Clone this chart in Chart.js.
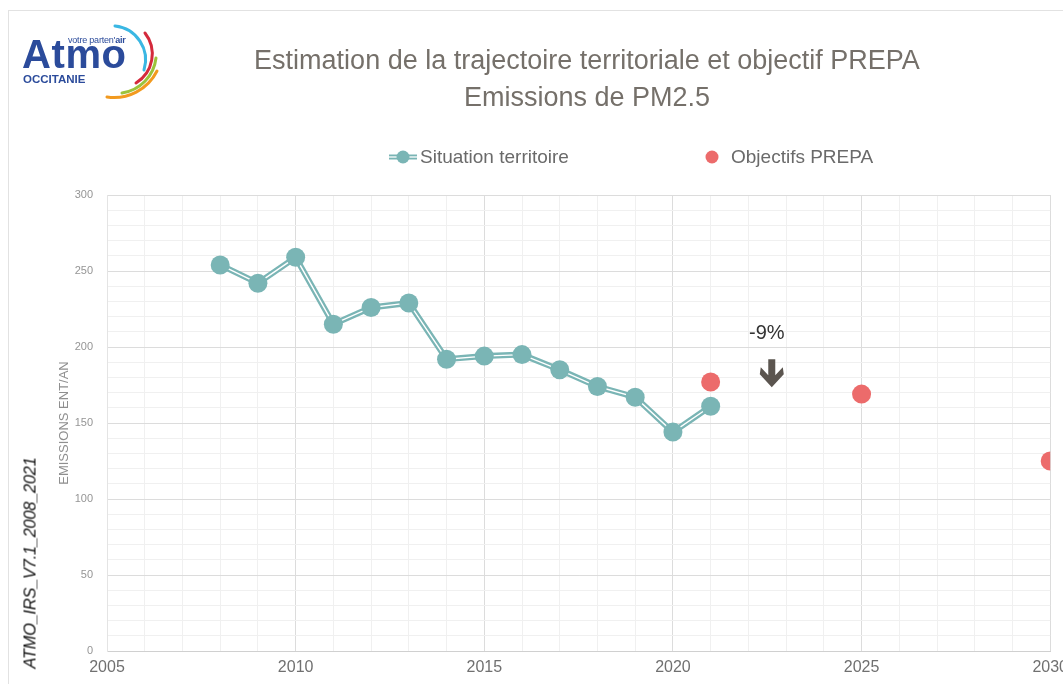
<!DOCTYPE html>
<html>
<head>
<meta charset="utf-8">
<script src="https://cdn.jsdelivr.net/npm/chart.js@4.4.1/dist/chart.umd.min.js"></script>
<style>
  html, body { margin: 0; padding: 0; background: #fff; overflow: hidden; }
  body { width: 1063px; height: 684px; position: relative; font-family: "Liberation Sans", Arial, sans-serif; }
  #frame { position: absolute; left: 8px; top: 10px; width: 1100px; height: 700px; border-left: 1px solid #e2e2e2; border-top: 1px solid #e2e2e2; }
  #wrap { position: absolute; left: 0; top: 0; width: 1075px; height: 684px; }
  #title { position: absolute; left: 240px; width: 694px; top: 42px; text-align: center; color: #75706a; font-size: 27px; line-height: 37px; }
  #legend { position: absolute; top: 146px; left: 388px; color: #6a6a6a; font-size: 19px; white-space: nowrap; }
  #legend span.item { position: absolute; top: 0; display: flex; align-items: center; }
  #side { position: absolute; left: 30px; top: 563px; transform: translate(-50%, -50%) rotate(-90deg); font-style: italic; font-size: 16.5px; color: #111; white-space: nowrap; letter-spacing: -0.3px; }
  #logo { position: absolute; left: 18px; top: 20px; }
</style>
</head>
<body>
<div id="frame"></div>
<div id="wrap"><canvas id="chart"></canvas></div>
<svg id="logo" width="150" height="90" viewBox="0 0 150 90">
  <text x="50" y="23" font-family="Liberation Sans, Arial, sans-serif" font-size="9" fill="#2b4b9b" letter-spacing="-0.2">votre parten'<tspan font-weight="bold">air</tspan></text>
  <text x="4" y="48" font-family="Liberation Sans, Arial, sans-serif" font-size="40" font-weight="bold" fill="#2b4b9b" letter-spacing="0.6">Atmo</text>
  <text x="5" y="63" font-family="Liberation Sans, Arial, sans-serif" font-size="11.5" font-weight="bold" fill="#2b4b9b">OCCITANIE</text>
  <path d="M97,6 A34,34 0 0 1 126,50" fill="none" stroke="#3ab7e3" stroke-width="3" stroke-linecap="round"/>
  <path d="M127,13 A34,34 0 0 1 118,63" fill="none" stroke="#d42a3c" stroke-width="3" stroke-linecap="round"/>
  <path d="M138,38 A40,40 0 0 1 104,73" fill="none" stroke="#9cc33b" stroke-width="3" stroke-linecap="round"/>
  <path d="M139,51 A48,48 0 0 1 89,77" fill="none" stroke="#f29a1f" stroke-width="3" stroke-linecap="round"/>
</svg>
<div id="title">Estimation de la trajectoire territoriale et objectif PREPA<br>Emissions de PM2.5</div>
<div id="legend">
  <span class="item" style="left:0">
    <svg width="30" height="20"><line x1="1" y1="10" x2="29" y2="10" stroke="#7ab5b5" stroke-width="5"/><line x1="1" y1="10" x2="29" y2="10" stroke="#fff" stroke-width="1.3"/><circle cx="15" cy="10" r="6.5" fill="#7ab5b5"/></svg>
    <span style="margin-left:2px">Situation territoire</span>
  </span>
  <span class="item" style="left:316px">
    <svg width="18" height="20"><circle cx="8" cy="10" r="6.5" fill="#ec6b6b"/></svg>
    <span style="margin-left:9px">Objectifs PREPA</span>
  </span>
</div>
<div id="side">ATMO_IRS_V7.1_2008_2021</div>

<script>
// data
const years = [2008, 2009, 2010, 2011, 2012, 2013, 2014, 2015, 2016, 2017, 2018, 2019, 2020, 2021];
const emissions = [254, 242, 259, 215, 226, 229, 192, 194, 195, 185, 174, 167, 144, 161];
const objYears = [2021, 2025, 2030];
const objValues = [177, 169, 125];
const xTicks = [2005, 2010, 2015, 2020, 2025, 2030];
const yTicks = [0, 50, 100, 150, 200, 250, 300];
const note = { label: "-9%", x: 2022.62, y: 209, arrowTop: 192 };

const teal = "#7ab5b5";
const red = "#ec6b6b";
const font = '"Liberation Sans", Arial, sans-serif';
const situation = years.map((y, i) => ({ x: y, y: emissions[i] }));
const objectifs = objYears.map((y, i) => ({ x: y, y: objValues[i] }));

// -9% label and arrow
const notePlugin = {
  id: "note",
  afterDatasetsDraw(chart) {
    const { ctx, scales } = chart;
    const x = scales.x.getPixelForValue(note.x);
    const ty = scales.y.getPixelForValue(note.y);
    const top = scales.y.getPixelForValue(note.arrowTop);
    ctx.save();
    ctx.fillStyle = "#333";
    ctx.font = "20px " + font;
    ctx.textAlign = "center";
    ctx.textBaseline = "middle";
    ctx.fillText(note.label, x - 5, ty);
    ctx.fillStyle = "#5b554f";
    ctx.beginPath();
    ctx.moveTo(x - 3.5, top);
    ctx.lineTo(x + 3.5, top);
    ctx.lineTo(x + 3.5, top + 16);
    ctx.lineTo(x + 11, top + 8);
    ctx.lineTo(x + 12, top + 15);
    ctx.lineTo(x, top + 28);
    ctx.lineTo(x - 12, top + 15);
    ctx.lineTo(x - 11, top + 8);
    ctx.lineTo(x - 3.5, top + 16);
    ctx.closePath();
    ctx.fill();
    ctx.restore();
  }
};

const ctx = document.getElementById("chart").getContext("2d");
const chart = new Chart(ctx, {
  type: "line",
  data: {
    datasets: [
      { label: "Situation territoire", data: situation, showLine: false, pointRadius: 9.5, pointHoverRadius: 9.5,
        pointBackgroundColor: teal, pointBorderWidth: 0, order: 0 },
      { label: "inner", data: situation, borderColor: "#ffffff", borderWidth: 1.4, pointRadius: 0, order: 1 },
      { label: "outer", data: situation, borderColor: teal, borderWidth: 6, pointRadius: 0, order: 2 },
      { label: "Objectifs PREPA", data: objectifs, showLine: false, pointRadius: 9.5, pointHoverRadius: 9.5,
        pointBackgroundColor: red, pointBorderWidth: 0, order: 0 }
    ]
  },
  options: {
    responsive: true,
    maintainAspectRatio: false,
    animation: false,
    layout: { padding: { top: 195, left: 0, right: 0, bottom: 0 } },
    plugins: { legend: { display: false }, tooltip: { enabled: false } },
    scales: {
      x: {
        type: "linear", min: 2005, max: 2030,
        afterFit: s => { s.height = 33; },
        ticks: {
          stepSize: 1, autoSkip: false, maxRotation: 0, padding: 7,
          color: "#707070", font: { family: font, size: 16 },
          callback: v => xTicks.includes(v) ? String(v) : ""
        },
        grid: { drawTicks: false, color: c => c.tick && c.tick.value % 5 === 0 ? "#dcdcdc" : "#f0f0f0" },
        border: { color: "#d0d0d0" }
      },
      y: {
        min: 0, max: 300,
        afterFit: s => { s.width = 107; },
        title: { display: true, text: "EMISSIONS ENT/AN", color: "#8f8f8f", padding: { top: 57, bottom: 0 },
          font: { family: font, size: 13 } },
        ticks: {
          stepSize: 10, autoSkip: false, padding: 14,
          color: "#959595", font: { family: font, size: 11 },
          callback: v => yTicks.includes(v) ? String(v) : ""
        },
        grid: { drawTicks: false, color: c => c.tick && c.tick.value % 50 === 0 ? "#dcdcdc" : "#f0f0f0" },
        border: { color: "#e4e4e4" }
      }
    }
  },
  plugins: [notePlugin]
});
</script>
</body>
</html>
